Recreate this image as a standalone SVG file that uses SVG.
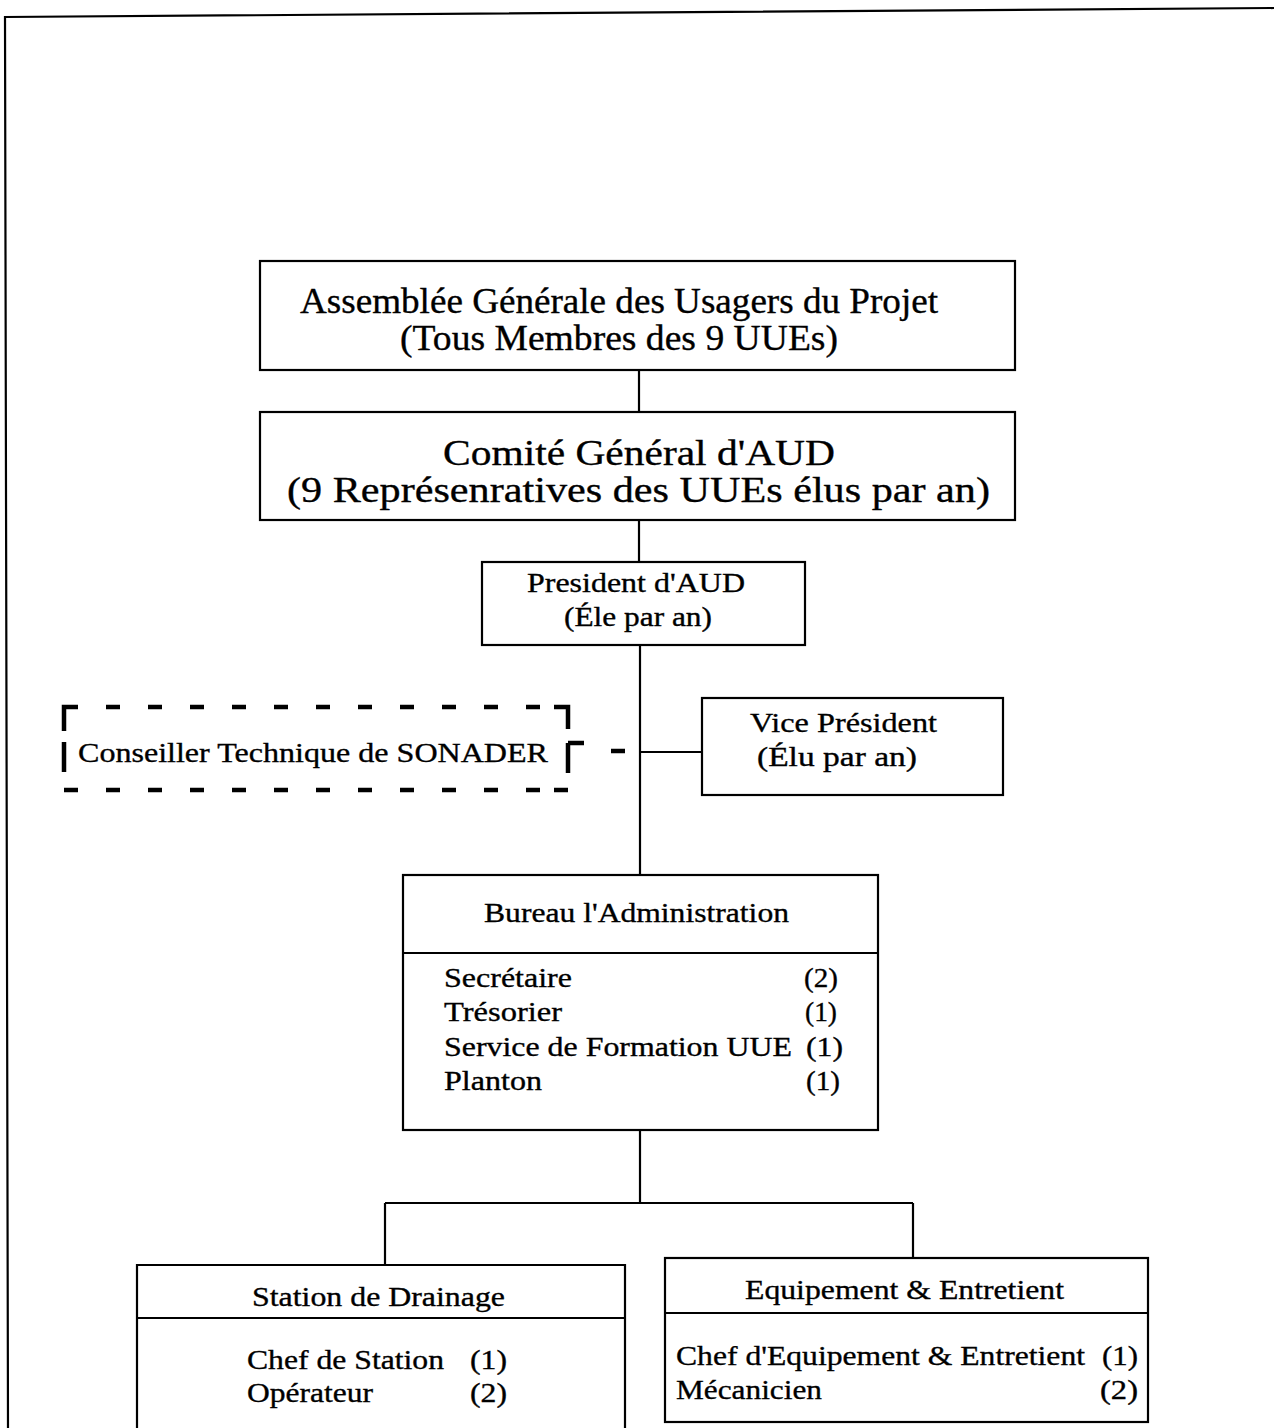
<svg xmlns="http://www.w3.org/2000/svg" width="1274" height="1428" viewBox="0 0 1274 1428">
<style>
.box{fill:#fff;stroke:#000;stroke-width:2.2}
.ln{stroke:#000;stroke-width:2.2;fill:none}
.dash{fill:none;stroke:#000;stroke-width:4.5}
text{font-family:"Liberation Serif","Times New Roman",serif;fill:#000;stroke:#000;stroke-width:0.35}
.big{font-size:36px}
.mid{font-size:28px}
</style>
<rect width="1274" height="1428" fill="#fff"/>
<g id="frame">
<path class="ln" d="M8,1428 L5,17 L1274,8" stroke-width="2.6"/>
</g>
<g id="connectors">
<line class="ln" x1="639" y1="370" x2="639" y2="412"/>
<line class="ln" x1="639" y1="520" x2="639" y2="562"/>
<line class="ln" x1="640" y1="645" x2="640" y2="875"/>
<line class="ln" x1="640" y1="752" x2="702" y2="752"/>
<path class="dash" stroke-width="3" d="M568,743 L584,743 M611,751 L625,751"/>
<line class="ln" x1="640" y1="1130" x2="640" y2="1203"/>
<line class="ln" x1="385" y1="1203" x2="913" y2="1203"/>
<line class="ln" x1="385" y1="1203" x2="385" y2="1265"/>
<line class="ln" x1="913" y1="1203" x2="913" y2="1258"/>
</g>
<g id="assemblee">
<rect class="box" x="260" y="261" width="755" height="109"/>
<text class="big" x="300" y="313" textLength="638" lengthAdjust="spacingAndGlyphs">Assemblée Générale des Usagers du Projet</text>
<text class="big" x="400" y="350" textLength="438" lengthAdjust="spacingAndGlyphs">(Tous Membres des 9 UUEs)</text>
</g>
<g id="comite">
<rect class="box" x="260" y="412" width="755" height="108"/>
<text class="big" x="443" y="465" textLength="392" lengthAdjust="spacingAndGlyphs">Comité Général d'AUD</text>
<text class="big" x="287" y="502" textLength="703" lengthAdjust="spacingAndGlyphs">(9 Représenratives des UUEs élus par an)</text>
</g>
<g id="president">
<rect class="box" x="482" y="562" width="323" height="83"/>
<text class="mid" x="527" y="592" textLength="218" lengthAdjust="spacingAndGlyphs">President d'AUD</text>
<text class="mid" x="564" y="626" textLength="148" lengthAdjust="spacingAndGlyphs">(Éle par an)</text>
</g>
<g id="conseiller">
<path class="dash" d="M64,731 L64,707 L78,707 M106,707 L120,707 M148,707 L162,707 M190,707 L204,707 M232,707 L246,707 M274,707 L288,707 M316,707 L330,707 M358,707 L372,707 M400,707 L414,707 M442,707 L456,707 M484,707 L498,707 M526,707 L540,707 M554,707 L568,707 L568,729 M64,742 L64,772 M568,743 L568,773 M64,790 L78,790 M106,790 L120,790 M148,790 L162,790 M190,790 L204,790 M232,790 L246,790 M274,790 L288,790 M316,790 L330,790 M358,790 L372,790 M400,790 L414,790 M442,790 L456,790 M484,790 L498,790 M526,790 L540,790 M554,790 L568,790"/>
<text class="mid" x="78" y="762" textLength="470" lengthAdjust="spacingAndGlyphs">Conseiller Technique de SONADER</text>
</g>
<g id="vice">
<rect class="box" x="702" y="698" width="301" height="97"/>
<text class="mid" x="750" y="732" textLength="187" lengthAdjust="spacingAndGlyphs">Vice Président</text>
<text class="mid" x="757" y="766" textLength="160" lengthAdjust="spacingAndGlyphs">(Élu par an)</text>
</g>
<g id="bureau">
<rect class="box" x="403" y="875" width="475" height="255"/>
<line class="ln" x1="403" y1="953" x2="878" y2="953"/>
<text class="mid" x="484" y="922" textLength="305" lengthAdjust="spacingAndGlyphs">Bureau l'Administration</text>
<text class="mid" x="444" y="987" textLength="128" lengthAdjust="spacingAndGlyphs">Secrétaire</text>
<text class="mid" x="804" y="987" textLength="34" lengthAdjust="spacingAndGlyphs">(2)</text>
<text class="mid" x="444" y="1021" textLength="118" lengthAdjust="spacingAndGlyphs">Trésorier</text>
<text class="mid" x="805" y="1021" textLength="32" lengthAdjust="spacingAndGlyphs">(1)</text>
<text class="mid" x="444" y="1056" textLength="348" lengthAdjust="spacingAndGlyphs">Service de Formation UUE</text>
<text class="mid" x="806" y="1056" textLength="37" lengthAdjust="spacingAndGlyphs">(1)</text>
<text class="mid" x="444" y="1090" textLength="98" lengthAdjust="spacingAndGlyphs">Planton</text>
<text class="mid" x="806" y="1090" textLength="34" lengthAdjust="spacingAndGlyphs">(1)</text>
</g>
<g id="station">
<path class="ln" d="M137,1430 L137,1265 L625,1265 L625,1430"/>
<line class="ln" x1="137" y1="1318" x2="625" y2="1318"/>
<text class="mid" x="252" y="1306" textLength="253" lengthAdjust="spacingAndGlyphs">Station de Drainage</text>
<text class="mid" x="247" y="1369" textLength="197" lengthAdjust="spacingAndGlyphs">Chef de Station</text>
<text class="mid" x="470" y="1369" textLength="37" lengthAdjust="spacingAndGlyphs">(1)</text>
<text class="mid" x="247" y="1402" textLength="126" lengthAdjust="spacingAndGlyphs">Opérateur</text>
<text class="mid" x="470" y="1402" textLength="37" lengthAdjust="spacingAndGlyphs">(2)</text>
</g>
<g id="equipement">
<rect class="box" x="665" y="1258" width="483" height="164"/>
<line class="ln" x1="665" y1="1313" x2="1148" y2="1313"/>
<text class="mid" x="745" y="1299" textLength="319" lengthAdjust="spacingAndGlyphs">Equipement &amp; Entretient</text>
<text class="mid" x="676" y="1365" textLength="409" lengthAdjust="spacingAndGlyphs">Chef d'Equipement &amp; Entretient</text>
<text class="mid" x="1102" y="1365" textLength="36" lengthAdjust="spacingAndGlyphs">(1)</text>
<text class="mid" x="676" y="1399" textLength="146" lengthAdjust="spacingAndGlyphs">Mécanicien</text>
<text class="mid" x="1100" y="1399" textLength="38" lengthAdjust="spacingAndGlyphs">(2)</text>
</g>
</svg>
